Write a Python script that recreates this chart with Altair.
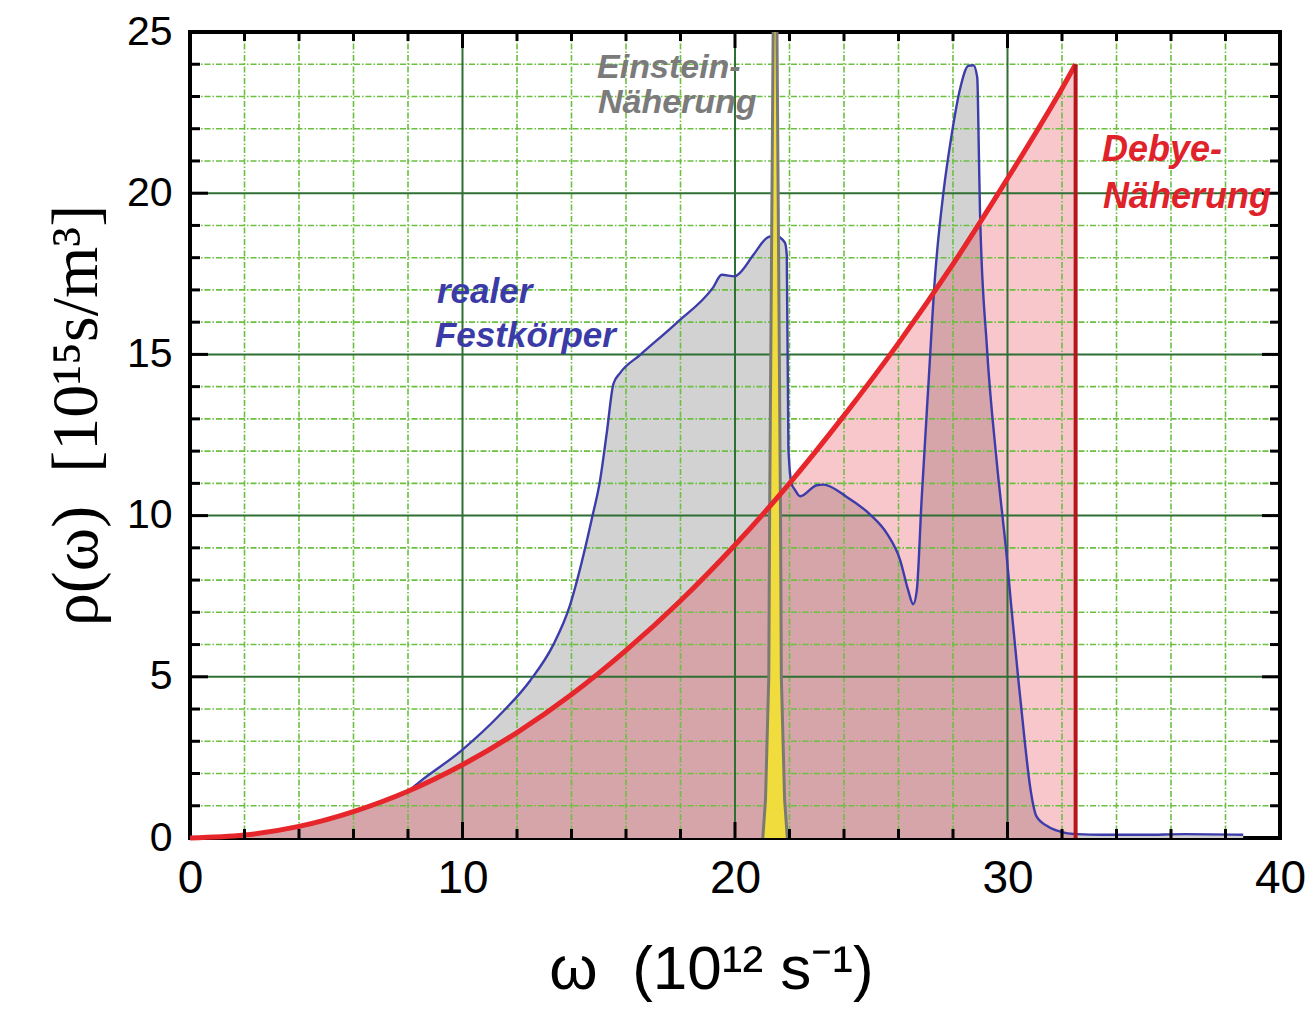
import altair as alt
import pandas as pd

W, H = 1090, 806

# Debye approximation
debye_w = [0, 2, 4, 6, 8, 10, 12, 14, 16, 18, 20, 22, 24, 26, 28, 30, 32, 32.5]
debye_r = [0, 0.09, 0.36, 0.82, 1.45, 2.27, 3.27, 4.45, 5.82, 7.36, 9.09, 11.0, 13.1, 15.35, 17.8, 20.45, 23.25, 24.0]
debye_cut = [32.5]
debye_cut_top = [24.0]

real_w = [0, 2, 4, 6, 7, 8, 8.44, 9.97, 11.38, 12.48, 13.33, 13.94, 14.37, 14.74, 15.05, 15.29,
          15.54, 15.78, 16.51, 17.86, 19.2, 19.51, 20.0, 20.18, 20.67, 21.22, 21.47, 21.83, 21.9,
          21.96, 22.08, 22.2, 22.39, 23.0, 23.24, 24.1, 24.95, 25.57, 26.06, 26.36, 26.54, 26.67,
          26.85, 27.1, 27.34, 27.65, 27.95, 28.26, 28.56, 28.75, 28.89, 28.95, 28.99, 29.24, 29.6,
          29.97, 30.15, 30.4, 30.64, 30.83, 31.07, 31.5, 31.93, 32.54, 33.5, 35, 36.5, 38.65]
real_r = [0, 0.09, 0.36, 0.82, 1.11, 1.45, 1.75, 2.72, 3.83, 4.88, 5.99, 7.21, 8.54, 9.88, 11.1, 12.54,
          14.09, 14.42, 14.98, 15.98, 17.08, 17.47, 17.42, 17.53, 18.08, 18.64, 18.68, 18.47, 18.08,
          12.09, 10.98, 10.8, 10.6, 10.94, 10.96, 10.58, 10.04, 9.45, 8.62, 7.67, 7.25, 7.67,
          10.52, 14.09, 17.41, 20.03, 21.81, 23.24, 23.95, 23.97, 23.59, 21.22, 19.44, 15.28, 11.71,
          8.74, 7.08, 4.9, 2.94, 1.59, 0.66, 0.35, 0.2, 0.12, 0.1, 0.1, 0.12, 0.1]

# Einstein approximation (narrow peak, runs off the top)
einstein_w = [21.02, 21.12, 21.24, 21.27, 21.40, 21.47, 21.54, 21.67, 21.70, 21.82, 21.92]
einstein_r = [0, 1.2, 5.0, 10.0, 25.0, 60.0, 25.0, 10.0, 5.0, 1.2, 0]

# grid and ticks
x_minor = [2, 4, 6, 8, 12, 14, 16, 18, 22, 24, 26, 28, 32, 34, 36, 38]
x_major = [10, 20, 30]
y_minor = [v for v in range(1, 25) if v % 5 != 0]
y_major = [5, 10, 15, 20]
x_labels = [0, 10, 20, 30, 40]
y_labels = [0, 5, 10, 15, 20, 25]

# annotations
ann_text = ["Einstein-", "Näherung", "Debye-", "Näherung", "realer", "Festkörper"]
ann_x = [14.94, 14.97, 33.47, 33.5, 9.06, 8.99]
ann_y = [23.57, 22.5, 21.0, 19.55, 16.6, 15.22]
ann_group = ["e", "e", "d", "d", "r", "r"]

debye = pd.DataFrame({"w": debye_w, "r": debye_r})
real = pd.DataFrame({"w": real_w, "r": real_r})
einst = pd.DataFrame({"w": einstein_w, "r": einstein_r})
cut = pd.DataFrame({"w": debye_cut, "r": debye_cut_top})
ann = pd.DataFrame({"x": ann_x, "y": ann_y, "t": ann_text, "g": ann_group})

xs = alt.Scale(domain=[0, 40], nice=False)
ys = alt.Scale(domain=[0, 25], nice=False)

NB = "\u00a0"
X = alt.X("w:Q", scale=xs, axis=alt.Axis(
    values=x_labels, format="d", grid=False, ticks=False, domain=False,
    labelFontSize=46, labelFont="Liberation Sans", labelColor="black", labelPadding=18,
    labelFlush=False, title=f"ω{NB}{NB}(10¹²{NB}s⁻¹)", titleFont="Liberation Sans",
    titleFontSize=62, titleFontWeight="normal", titleColor="black", titlePadding=38,
    titleX=521))
Y = alt.Y("r:Q", scale=ys, axis=alt.Axis(
    values=y_labels, format="d", grid=False, ticks=False, domain=False,
    labelFontSize=41, labelFont="Liberation Sans", labelColor="black", labelPadding=18,
    labelFlush=False, title=f"ρ(ω){NB}{NB}[10¹⁵s/m³]", titleFont="Liberation Serif",
    titleFontSize=66, titleFontWeight="normal", titleColor="black", titlePadding=16,
    titleY=383))

xq = alt.X("w:Q", scale=xs)
yq = alt.Y("r:Q", scale=ys)

real_area = alt.Chart(real).mark_area(interpolate="monotone", color="#d2d2d2").encode(x=X, y=Y)
debye_area = alt.Chart(debye).mark_area(interpolate="monotone", color="#e02030", opacity=0.25).encode(x=xq, y=yq)

def vgrid(vals, color, width, dash=None):
    kw = dict(color=color, strokeWidth=width)
    if dash:
        kw["strokeDash"] = dash
    return alt.Chart(pd.DataFrame({"w": vals})).mark_rule(**kw).encode(x=xq)

def hgrid(vals, color, width, dash=None):
    kw = dict(color=color, strokeWidth=width)
    if dash:
        kw["strokeDash"] = dash
    return alt.Chart(pd.DataFrame({"r": vals})).mark_rule(**kw).encode(y=yq)

minor_c = "#6cc040"
major_c = "#2f6f34"
grids = [
    vgrid(x_minor, minor_c, 1.6, [6, 2, 1.5, 2]),
    hgrid(y_minor, minor_c, 1.6, [6, 2, 1.5, 2]),
    vgrid(x_major, major_c, 2),
    hgrid(y_major, major_c, 2),
]

einst_area = alt.Chart(einst).mark_area(color="#f0dc3c", clip=True).encode(x=xq, y=yq)
einst_line = alt.Chart(einst).mark_line(color="#7a7a72", strokeWidth=3, clip=True).encode(x=xq, y=yq)

real_line = alt.Chart(real).mark_line(interpolate="monotone", color="#3c3caa", strokeWidth=2.4).encode(x=xq, y=yq)
debye_line = alt.Chart(debye).mark_line(interpolate="monotone", color="#e6262b", strokeWidth=5).encode(x=xq, y=yq)
debye_rule = alt.Chart(cut).mark_rule(color="#b3171c", strokeWidth=4).encode(x=xq, y=alt.Y("r:Q", scale=ys), y2=alt.datum(0))

# inward ticks
def xticks(vals, length):
    d = pd.DataFrame({"w": vals})
    b = alt.Chart(d).mark_rule(color="black", strokeWidth=3).encode(x=xq, y=alt.value(H), y2=alt.value(H - length))
    t = alt.Chart(d).mark_rule(color="black", strokeWidth=3).encode(x=xq, y=alt.value(0), y2=alt.value(length))
    return [b, t]

def yticks(vals, length):
    d = pd.DataFrame({"r": vals})
    l = alt.Chart(d).mark_rule(color="black", strokeWidth=3).encode(y=yq, x=alt.value(0), x2=alt.value(length))
    r = alt.Chart(d).mark_rule(color="black", strokeWidth=3).encode(y=yq, x=alt.value(W), x2=alt.value(W - length))
    return [l, r]

ticks = xticks(x_minor, 9) + xticks(x_major, 16) + yticks(y_minor, 10) + yticks(y_major, 18)

def texts(group, color, size):
    return alt.Chart(ann[ann.g == group]).mark_text(
        align="left", baseline="alphabetic", font="Liberation Sans", fontSize=size,
        fontWeight="bold", fontStyle="italic", color=color
    ).encode(x=alt.X("x:Q", scale=xs), y=alt.Y("y:Q", scale=ys), text="t:N")

labels = [texts("e", "#7b7b7b", 34), texts("d", "#e0222a", 36), texts("r", "#3b3ba8", 35)]

chart = alt.layer(
    real_area, debye_area, *grids, real_line, einst_area, einst_line, debye_line, debye_rule,
    *ticks, *labels
).properties(
    width=W, height=H,
    autosize=alt.AutoSizeParams(type="none"),
    padding={"left": 190, "top": 32, "right": 36, "bottom": 174},
    background="white",
).configure_view(stroke="black", strokeWidth=4)

chart.save("out.html", embed_options={"renderer": "svg", "actions": False})
